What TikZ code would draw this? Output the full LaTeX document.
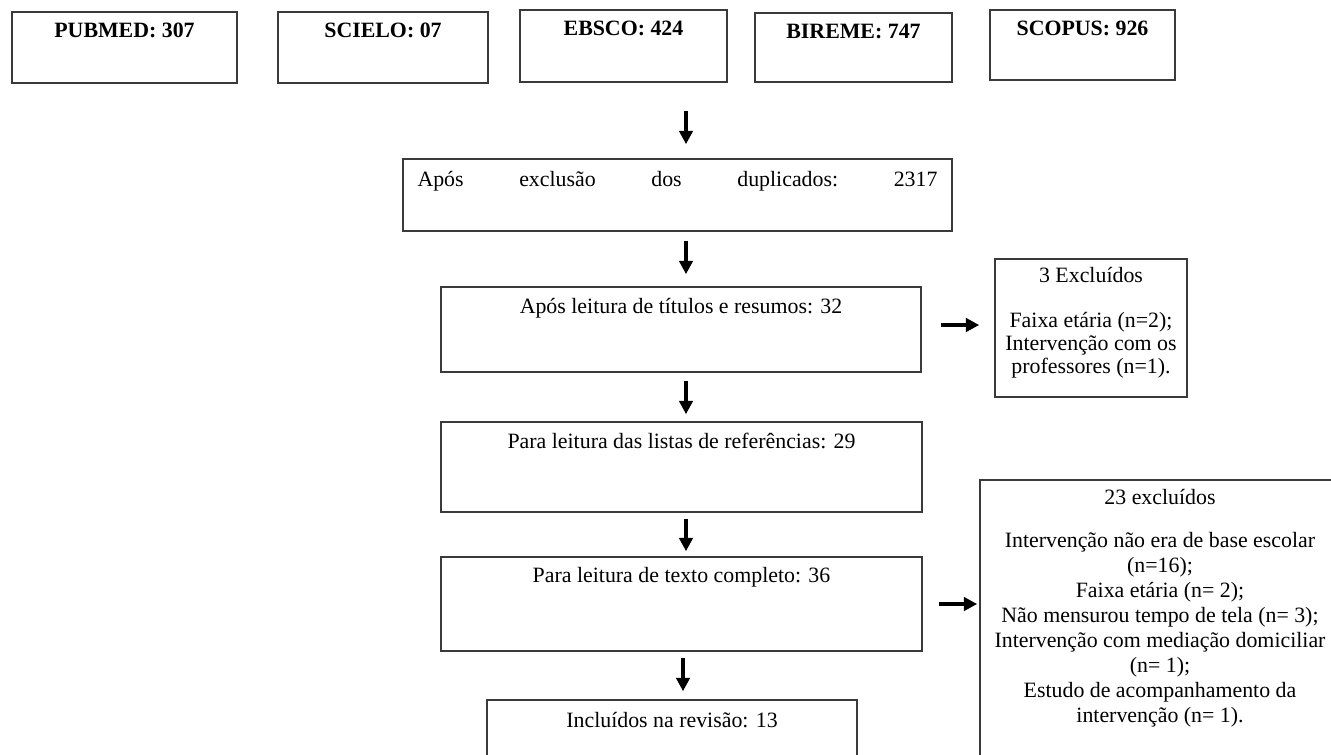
\documentclass[tikz,border=0pt]{standalone}
\usepackage{fontspec}
\setmainfont{Liberation Serif}
\usetikzlibrary{arrows.meta,fit}

\definecolor{boxgray}{HTML}{3A3A3A}

\tikzset{
  box/.style={draw=boxgray,line width=1.2pt,inner sep=0pt},
  txt/.style={anchor=base,inner sep=0pt,font=\fontsize{16.4}{18.75}\selectfont},
  arr/.style={-{Triangle[length=10pt,width=10pt]},line width=2.8pt},
}

\begin{document}
\begin{tikzpicture}[x=0.75pt,y=-0.75pt]
\useasboundingbox (0,0) rectangle (1331,754);
\clip (0,0) rectangle (1331,754);
\coordinate (axis) at (686,0);
\coordinate (axis2) at (683,0);
\coordinate (r1) at (0,325);

% bases de dados
\node[box,fit={(12,12) (237,83)}] (pubmed) {};
\node[box,fit={(278,12) (488,83)}] (scielo) {};
\node[box,fit={(520,10) (727,82)}] (ebsco) {};
\node[box,fit={(755,13) (952,82)}] (bireme) {};
\node[box,fit={(990,10) (1175,80)}] (scopus) {};
\foreach \b/\t in {pubmed/PUBMED: 307,scielo/SCIELO: 07,ebsco/EBSCO: 424,bireme/BIREME: 747,scopus/SCOPUS: 926}
  \node[txt] (\b-t) at ([yshift=-19.5pt]\b.north) {\textbf{\t}};

% etapas
\node[box,fit={(403,159) (952,231)}] (dup) {};
\node[box,fit={(441,287) (921,372)}] (tit) {};
\node[box,fit={(441,422) (922,512)}] (refs) {};
\node[box,fit={(441,557) (922,651)}] (full) {};
\node[box,fit={(487,700) (857,790)}] (incl) {};
\node[box,fit={(995,259) (1187,397)}] (exc1) {};
\node[box,fit={(980,480) (1340,790)}] (exc2) {};

\node[txt] (dup-t) at ([yshift=-21pt]dup.north) {\makebox[390pt][s]{Após\hfill exclusão\hfill dos\hfill duplicados:\hfill 2317}};
\node[txt] (tit-t) at ([yshift=-20.25pt]tit.north) {Após leitura de títulos e resumos: 32};
\node[txt] (refs-t) at ([yshift=-20.25pt]refs.north) {Para leitura das listas de referências: 29};
\node[txt] (full-t) at ([yshift=-19.5pt]full.north) {Para leitura de texto completo: 36};
\node[txt] (incl-t) at ([yshift=-21pt]incl.north) {Incluídos na revisão: 13};
\node[txt,font=\fontsize{16.4}{17.6}\selectfont] (exc1-t) at ([yshift=-18pt]exc1.north)
  {\begin{tabular}[t]{@{}c@{}}3 Excluídos\\[16pt] Faixa etária (n=2);\\ Intervenção com os\\ professores (n=1).\end{tabular}};
\node[txt] (exc2-t) at ([yshift=-18.75pt]exc2.north)
  {\begin{tabular}[t]{@{}c@{}}23 excluídos\\[13.5pt] Intervenção não era de base escolar\\ (n=16);\\ Faixa etária (n= 2);\\
   Não mensurou tempo de tela (n= 3);\\ Intervenção com mediação domiciliar\\ (n= 1);\\ Estudo de acompanhamento da\\ intervenção (n= 1).\end{tabular}};

% setas
\draw[arr,shorten <=21pt,shorten >=10.5pt] (ebsco.south -| axis) -- (dup.north -| axis);
\draw[arr,shorten <=6.75pt,shorten >=9pt] (dup.south -| axis) -- (tit.north -| axis);
\draw[arr,shorten <=6pt,shorten >=5.25pt] (tit.south -| axis) -- (refs.north -| axis);
\draw[arr,shorten <=4.5pt,shorten >=3.75pt] (refs.south -| axis) -- (full.north -| axis);
\draw[arr,shorten <=4.5pt,shorten >=6pt] (full.south -| axis2) -- (incl.north -| axis2);
\draw[arr,shorten <=14.25pt,shorten >=11.25pt] (tit.east |- r1) -- (exc1.west |- r1);
\draw[arr,shorten <=12pt,shorten >=1.5pt] (full.east) -- (exc2.west |- full.east);
\end{tikzpicture}
\end{document}
